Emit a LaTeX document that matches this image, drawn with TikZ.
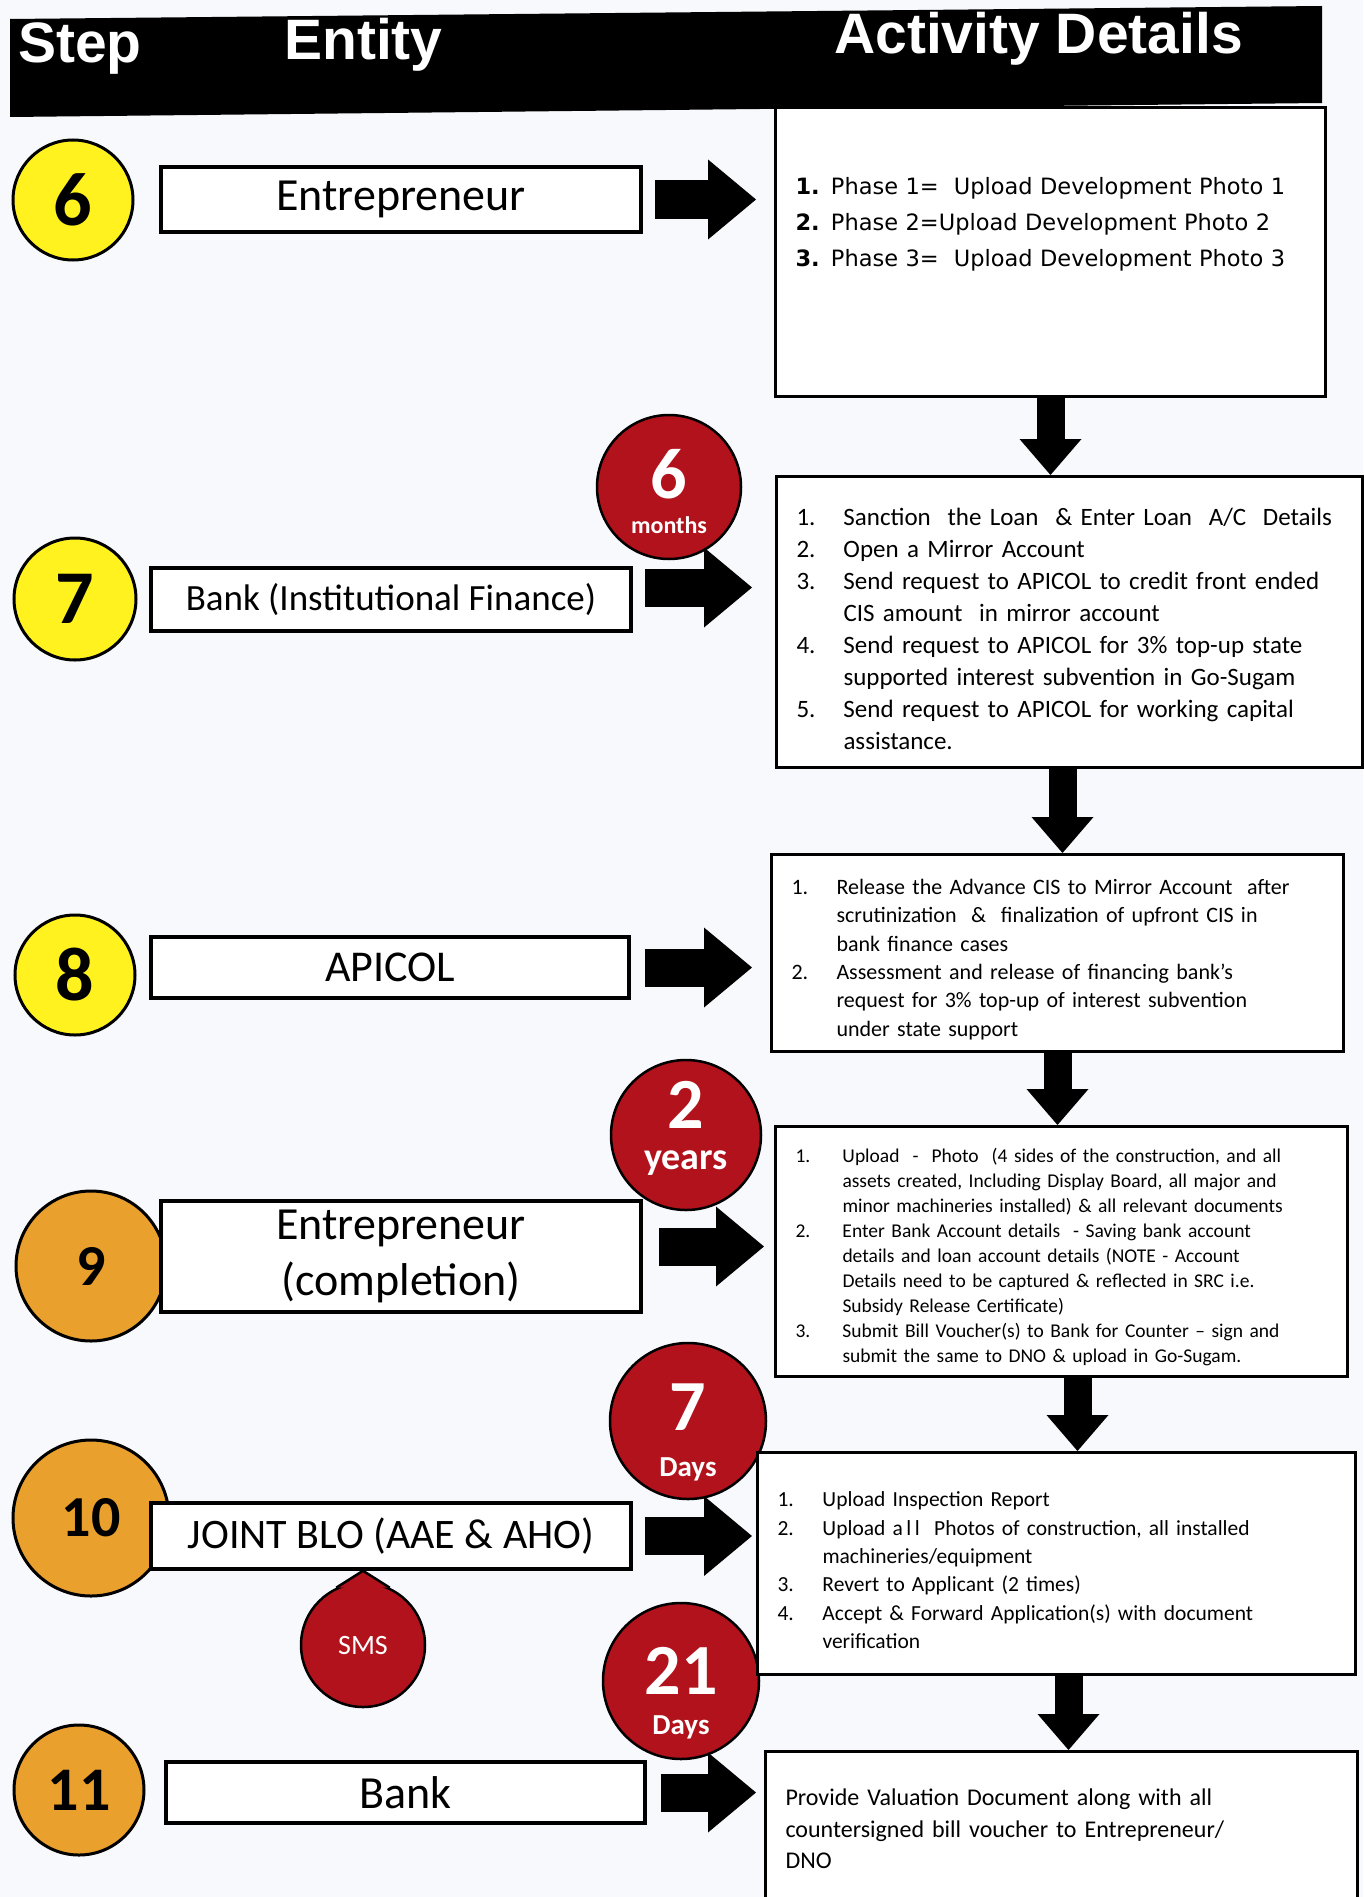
\documentclass[tikz,border=0pt]{standalone}
\usepackage{fontspec}
\setmainfont{Carlito}
\newfontfamily\headfont{Liberation Sans}
\newfontfamily\phasefont{DejaVu Sans}
\usetikzlibrary{arrows.meta}
\definecolor{stepyellow}{HTML}{FFF21F}
\definecolor{steporange}{HTML}{E9A02C}
\definecolor{timered}{HTML}{B2121B}
\definecolor{paper}{HTML}{F8F9FC}
\setlength{\parskip}{0pt}
\newlength{\actind}
\newcommand{\actitem}[2]{\par\noindent\hangindent=\actind\hangafter=1\makebox[\actind][l]{#1}#2\par}
\begin{document}
\begin{tikzpicture}[x=1pt,y=-1pt,
    stepcirc/.style={circle,draw,line width=3pt,inner sep=0pt,font=\bfseries},
    entbox/.style={draw,line width=3.5pt,fill=white,minimum width=480pt,inner sep=0pt},
    actbox/.style={draw,line width=3pt,fill=white,anchor=north west,inner xsep=20pt,inner ysep=0pt,align=left},
    timecirc/.style={circle,draw,line width=2.5pt,fill=timered,inner sep=0pt},
    timetext/.style={text=white,inner sep=0pt},
    rarrow/.style={line width=38pt,-{Triangle[length=48pt,width=80pt,line width=0pt]}},
    darrow/.style={line width=28pt,-{Triangle[length=36pt,width=62pt,line width=0pt]}}]
  \useasboundingbox (0,0) rectangle (1363,1897);
  \fill[paper] (0,0) rectangle (1363,1897);
  \fill (10,19) -- (1322,6) -- (1322,103) -- (10,117) -- cycle;
  \begin{scope}[every node/.style={anchor=base west,text=white,inner sep=0pt,
      font=\headfont\bfseries\fontsize{57}{57}\selectfont}]
    \node (hstep) at (18,63) {Step};
    \node (hentity) at (284,60) {Entity};
    \node (hact) at (834,54) {Activity Details};
  \end{scope}

  \node[stepcirc,fill=stepyellow,minimum size=120pt,font=\bfseries\fontsize{76}{76}\selectfont] (s6) at (73,200) {6};
  \node[stepcirc,fill=stepyellow,minimum size=122pt,font=\bfseries\fontsize{76}{76}\selectfont] (s7) at (75,599) {7};
  \node[stepcirc,fill=stepyellow,minimum size=120pt,font=\bfseries\fontsize{76}{76}\selectfont] (s8) at (75,975) {8};
  \node[stepcirc,fill=steporange,minimum size=150pt,font=\bfseries\fontsize{58}{58}\selectfont] (s9) at (91,1266) {9};
  \node[stepcirc,fill=steporange,minimum size=156pt,font=\bfseries\fontsize{58}{58}\selectfont] (s10) at (91,1518) {10};
  \node[stepcirc,fill=steporange,minimum size=130pt,font=\bfseries\fontsize{62}{62}\selectfont] (s11) at (79,1790) {11};

  \node[timecirc,minimum size=144pt] (d7) at (669,487) {};
  \node[timetext,font=\bfseries\fontsize{72}{72}\selectfont] (d7n) at ([yshift=13pt]d7.center) {6};
  \node[timetext,font=\bfseries\fontsize{24}{24}\selectfont] (d7u) at ([yshift=-38pt]d7.center) {months};
  \node[timecirc,minimum size=150pt] (d9) at (686,1135) {};
  \node[timetext,font=\bfseries\fontsize{72}{72}\selectfont] (d9n) at ([yshift=30pt]d9.center) {2};
  \node[timetext,font=\bfseries\fontsize{38}{38}\selectfont] (d9u) at ([yshift=-28pt]d9.center) {years};
  \node[timecirc,minimum size=156pt] (d10) at (688,1421) {};
  \node[timetext,font=\bfseries\fontsize{72}{72}\selectfont] (d10n) at ([yshift=14pt]d10.center) {7};
  \node[timetext,font=\bfseries\fontsize{29}{29}\selectfont] (d10u) at ([yshift=-48pt]d10.center) {Days};
  \node[timecirc,minimum size=156pt] (d11) at (681,1681) {};
  \node[timetext,font=\bfseries\fontsize{72}{72}\selectfont] (d11n) at ([yshift=10pt]d11.center) {21};
  \node[timetext,font=\bfseries\fontsize{29}{29}\selectfont] (d11u) at ([yshift=-46pt]d11.center) {Days};

  \node[entbox,minimum height=65pt,font=\fontsize{46}{46}\selectfont] (ent6) at (401,199.5) {Entrepreneur};
  \node[entbox,minimum height=63pt,font=\fontsize{37}{37}\selectfont] (ent7) at (391,599.5) {Bank (Institutional Finance)};
  \node[entbox,minimum width=478pt,minimum height=61pt,font=\fontsize{44}{44}\selectfont] (ent8) at (390,967.5) {APICOL};
  \node[entbox,minimum height=111pt,align=center,font=\fontsize{46}{56}\selectfont] (ent9) at (401,1256.5) {Entrepreneur\\(completion)};
  \node[entbox,minimum height=66pt,font=\fontsize{42}{42}\selectfont] (ent10) at (391,1536) {JOINT BLO (AAE \& AHO)};
  \node[entbox,minimum width=479pt,minimum height=61pt,font=\fontsize{46}{46}\selectfont] (ent11) at (405.5,1792.5) {Bank};

  \node[timecirc,minimum size=124pt] (sms) at (363,1645) {};
  \coordinate (smstip) at (sms.north |- ent10.south);
  \fill[timered] (sms.115) -- (smstip) -- (sms.65) -- cycle;
  \draw[line width=2.5pt] (sms.115) -- (smstip) -- (sms.65);
  \node[timetext,font=\fontsize{28}{28}\selectfont] (smst) at (sms.center) {SMS};

  \node[actbox,minimum width=548pt,minimum height=289pt,text width=510pt,text depth=133pt,
    font=\phasefont\fontsize{22.5}{36}\selectfont] (act1) at (774,106) {%
    \textbf{1.} Phase 1=~ Upload Development Photo 1\newline
    \textbf{2.} Phase 2=Upload Development Photo 2\newline
    \textbf{3.} Phase 3=~ Upload Development Photo 3};
  \node[actbox,minimum width=586pt,minimum height=291pt,text width=546pt,
    font=\fontsize{25}{32}\selectfont] (act2) at (775,475) {\setlength{\actind}{47pt}%
    \actitem{1.}{Sanction~ the Loan~ \& Enter Loan~ A/C~ Details}
    \actitem{2.}{Open a Mirror Account}
    \actitem{3.}{Send request to APICOL to credit front ended\newline CIS amount~ in mirror account}
    \actitem{4.}{Send request to APICOL for 3\% top-up state\newline supported interest subvention in Go-Sugam}
    \actitem{5.}{Send request to APICOL for working capital\newline assistance.}};
  \node[actbox,minimum width=572pt,minimum height=197pt,text width=532pt,
    font=\fontsize{22}{28.3}\selectfont] (act3) at (770,853) {\setlength{\actind}{45pt}%
    \actitem{1.}{Release the Advance CIS to Mirror Account~ after\newline scrutinization~ \&~ finalization of upfront CIS in\newline bank finance cases}
    \actitem{2.}{Assessment and release of financing bank's\newline request for 3\% top-up of interest subvention\newline under state support}};
  \node[actbox,minimum width=572pt,minimum height=250pt,text width=532pt,
    font=\fontsize{19.5}{25}\selectfont] (act4) at (774,1125) {\setlength{\actind}{47pt}%
    \actitem{1.}{Upload~ -~ Photo~ (4 sides of the construction, and all\newline assets created, Including Display Board, all major and\newline minor machineries installed) \& all relevant documents}
    \actitem{2.}{Enter Bank Account details~ - Saving bank account\newline details and loan account details (NOTE - Account\newline Details need to be captured \& reflected in SRC i.e.\newline Subsidy Release Certificate)}
    \actitem{3.}{Submit Bill Voucher(s) to Bank for Counter -- sign and\newline submit the same to DNO \& upload in Go-Sugam.}};
  \node[actbox,minimum width=598pt,minimum height=222pt,text width=558pt,
    font=\fontsize{21.5}{28.3}\selectfont] (act5) at (756,1451) {\setlength{\actind}{45pt}%
    \actitem{1.}{Upload Inspection Report}
    \actitem{2.}{Upload a\,l\,l~ Photos of construction, all installed\newline machineries/equipment}
    \actitem{3.}{Revert to Applicant (2 times)}
    \actitem{4.}{Accept \& Forward Application(s) with document\newline verification}};
  \node[actbox,minimum width=592pt,minimum height=155pt,text width=552pt,
    font=\fontsize{24}{31.5}\selectfont] (act6) at (764,1750) {%
    Provide Valuation Document along with all\newline
    countersigned bill voucher to Entrepreneur/\newline DNO};

  \begin{scope}[rarrow]
    \draw[shorten <=12pt,shorten >=18pt] (ent6.east) -- (ent6.east -| act1.west);
    \draw[shorten <=12pt,shorten >=23pt] ([yshift=12pt]ent7.east) -- ([yshift=12pt]ent7.east -| act2.west);
    \draw[shorten <=14pt,shorten >=18pt] (ent8.east) -- (ent8.east -| act3.west);
    \draw[shorten <=16pt,shorten >=10pt] ([yshift=10pt]ent9.east) -- ([yshift=10pt]ent9.east -| act4.west);
    \draw[shorten <=12pt,shorten >=4pt] (ent10.east) -- (ent10.east -| act5.west);
    \draw[shorten <=14pt,shorten >=8pt] (ent11.east) -- (ent11.east -| act6.west);
  \end{scope}
  \begin{scope}[darrow]
    \draw (act1.south) -- (act1.south |- act2.north);
    \draw ([xshift=-7pt]act2.south) -- ([xshift=-7pt]act2.south |- act3.north);
    \draw (act3.south) -- (act3.south |- act4.north);
    \draw ([xshift=16pt]act4.south) -- ([xshift=16pt]act4.south |- act5.north);
    \draw ([xshift=12pt]act5.south) -- ([xshift=12pt]act5.south |- act6.north);
  \end{scope}
\end{tikzpicture}
\end{document}
